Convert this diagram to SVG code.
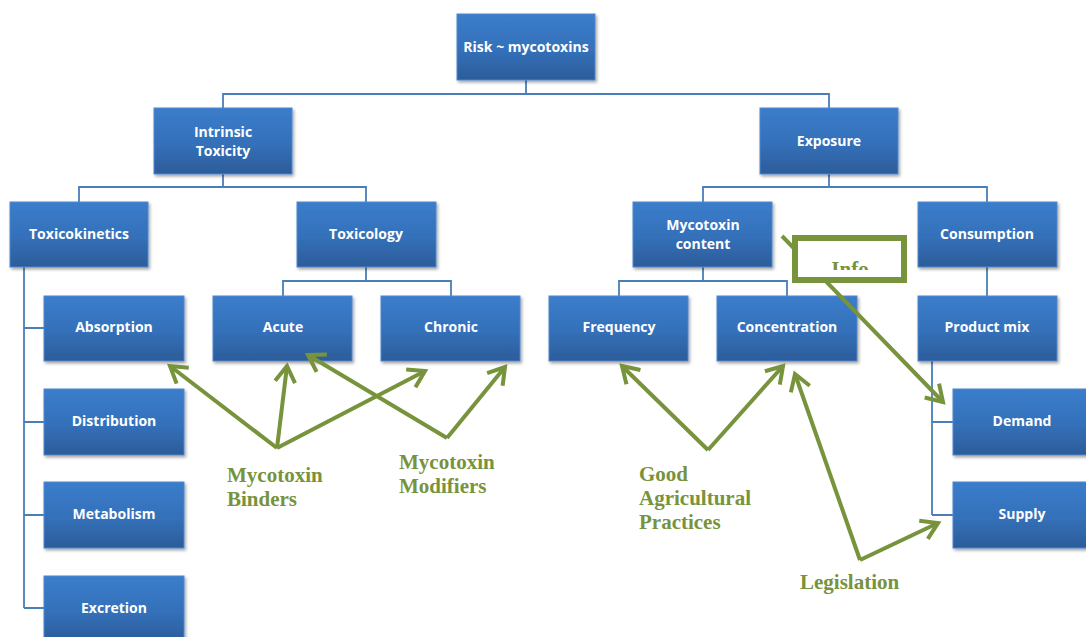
<svg xmlns="http://www.w3.org/2000/svg" width="1086" height="637" viewBox="0 0 1086 637">
<defs>
<linearGradient id="g" x1="0" y1="0" x2="0" y2="1">
<stop offset="0" stop-color="#3B7DCB"/>
<stop offset="0.55" stop-color="#3470B9"/>
<stop offset="1" stop-color="#2C5C99"/>
</linearGradient>
<filter id="sh" x="-10%" y="-10%" width="125%" height="130%">
<feDropShadow dx="1.5" dy="2" stdDeviation="1.5" flood-color="#000" flood-opacity="0.35"/>
</filter>
<marker id="ah" markerUnits="userSpaceOnUse" markerWidth="30" markerHeight="30" viewBox="-20 -15 24 30" refX="0" refY="0" orient="auto">
<path d="M-16,-10 L0,0 L-16,10" fill="none" stroke="#77933C" stroke-width="4" stroke-linejoin="miter"/>
</marker>
<clipPath id="infoclip"><rect x="798" y="241" width="103" height="29"/></clipPath>
</defs>
<style>
.box{fill:url(#g);stroke:#4F87CF;stroke-width:1;filter:url(#sh)}
.t{font-family:"Open Sans","Liberation Sans",sans-serif;font-weight:700;font-size:14px;fill:#FFFFFF;text-anchor:middle}
.c{fill:none;stroke:#4A7EBB;stroke-width:1.8}
.a{fill:none;stroke:#77933C;stroke-width:4;marker-end:url(#ah)}
.g{font-family:"Liberation Serif","Times New Roman",serif;font-weight:700;font-size:21px;fill:#77933C}
</style>
<rect width="1086" height="637" fill="#FFFFFF"/>
<g id="connectors">
<path class="c" d="M526,80 V94 M223,108 V94 H829 V108"/>
<path class="c" d="M223,174 V187 M79,202 V187 H366 V202"/>
<path class="c" d="M829,174 V187 M703,202 V187 H987 V202"/>
<path class="c" d="M24,267 V608 M24,328 H44 M24,422 H44 M24,515 H44 M24,608 H44"/>
<path class="c" d="M366,267 V281 M283,296 V281 H451 V296"/>
<path class="c" d="M703,267 V281 M619,296 V281 H787 V296"/>
<path class="c" d="M987,267 V296"/>
<path class="c" d="M932,361 V515 M932,422 H953 M932,515 H953"/>
</g>
<g id="n-risk"><rect class="box" x="457" y="14" width="138" height="66"/><text class="t" x="526" y="52">Risk ~ mycotoxins</text></g>
<g id="n-intrinsic"><rect class="box" x="154" y="108" width="138" height="66"/><text class="t" x="223" y="137">Intrinsic</text><text class="t" x="223" y="156">Toxicity</text></g>
<g id="n-exposure"><rect class="box" x="760" y="108" width="138" height="66"/><text class="t" x="829" y="146">Exposure</text></g>
<g id="n-toxicokinetics"><rect class="box" x="10" y="202" width="138" height="65"/><text class="t" x="79" y="239">Toxicokinetics</text></g>
<g id="n-toxicology"><rect class="box" x="297" y="202" width="139" height="65"/><text class="t" x="366" y="239">Toxicology</text></g>
<g id="n-content"><rect class="box" x="633" y="202" width="139" height="65"/><text class="t" x="703" y="230">Mycotoxin</text><text class="t" x="703" y="249">content</text></g>
<g id="n-consumption"><rect class="box" x="918" y="202" width="139" height="65"/><text class="t" x="987" y="239">Consumption</text></g>
<g id="n-absorption"><rect class="box" x="44" y="296" width="140" height="65"/><text class="t" x="114" y="332">Absorption</text></g>
<g id="n-acute"><rect class="box" x="213" y="296" width="139" height="65"/><text class="t" x="283" y="332">Acute</text></g>
<g id="n-chronic"><rect class="box" x="381" y="296" width="139" height="65"/><text class="t" x="451" y="332">Chronic</text></g>
<g id="n-frequency"><rect class="box" x="549" y="296" width="139" height="65"/><text class="t" x="619" y="332">Frequency</text></g>
<g id="n-concentration"><rect class="box" x="717" y="296" width="140" height="65"/><text class="t" x="787" y="332">Concentration</text></g>
<g id="n-productmix"><rect class="box" x="918" y="296" width="139" height="65"/><text class="t" x="987" y="332">Product mix</text></g>
<g id="n-distribution"><rect class="box" x="44" y="389" width="140" height="66"/><text class="t" x="114" y="426">Distribution</text></g>
<g id="n-metabolism"><rect class="box" x="44" y="482" width="140" height="66"/><text class="t" x="114" y="519">Metabolism</text></g>
<g id="n-excretion"><rect class="box" x="44" y="576" width="140" height="66"/><text class="t" x="114" y="613">Excretion</text></g>
<g id="n-demand"><rect class="box" x="953" y="389" width="140" height="66"/><text class="t" x="1022" y="426">Demand</text></g>
<g id="n-supply"><rect class="box" x="953" y="482" width="140" height="66"/><text class="t" x="1022" y="519">Supply</text></g>
<g id="arrows">
<line class="a" x1="277" y1="448" x2="170" y2="366"/>
<line class="a" x1="277" y1="448" x2="287" y2="366"/>
<line class="a" x1="277" y1="448" x2="425" y2="371"/>
<line class="a" x1="447" y1="438" x2="308" y2="355"/>
<line class="a" x1="447" y1="438" x2="505" y2="367"/>
<line class="a" x1="708" y1="450" x2="622" y2="366"/>
<line class="a" x1="708" y1="450" x2="783" y2="366"/>
<line class="a" x1="860" y1="560" x2="795" y2="374"/>
<line class="a" x1="860" y1="560" x2="938" y2="523"/>
<line class="a" x1="782" y1="236" x2="943" y2="402"/>
</g>
<g id="n-info">
<rect x="795" y="238" width="109" height="42" fill="#FFFFFF" stroke="#77933C" stroke-width="6"/>
<text class="g" x="850" y="276" text-anchor="middle" font-size="20" clip-path="url(#infoclip)">Info</text>
</g>
<g id="labels">
<text class="g" x="227" y="482">Mycotoxin</text>
<text class="g" x="227" y="506">Binders</text>
<text class="g" x="399" y="469">Mycotoxin</text>
<text class="g" x="399" y="493">Modifiers</text>
<text class="g" x="639" y="481">Good</text>
<text class="g" x="639" y="505">Agricultural</text>
<text class="g" x="639" y="529">Practices</text>
<text class="g" x="800" y="589">Legislation</text>
</g>
</svg>
